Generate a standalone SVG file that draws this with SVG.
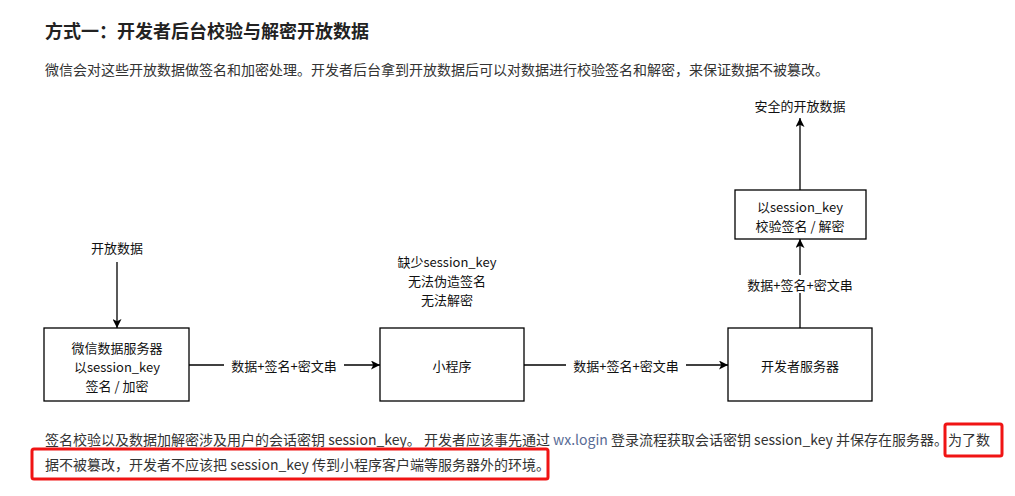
<svg xmlns="http://www.w3.org/2000/svg" width="1015" height="496" viewBox="0 0 1015 496">
<style>
.t{font-family:"Noto Sans CJK SC","Liberation Sans",sans-serif}
.title{font-size:18px;font-weight:bold;fill:#222}
.body{font-size:14px;fill:#333}
.d{font-size:13px;fill:#111;text-anchor:middle;dominant-baseline:central}
.box{fill:#fff;stroke:#000;stroke-width:1.3}
.ln{stroke:#000;stroke-width:1.3;fill:none;marker-end:url(#ah)}
.lbl{fill:#fff}
.red{fill:none;stroke:#f01414;stroke-width:3}
.link{fill:#576b95}
</style>
<defs>
<marker id="ah" viewBox="0 0 10 10" refX="10" refY="5" markerWidth="9" markerHeight="9" markerUnits="userSpaceOnUse" orient="auto">
<path d="M0,0 L10,5 L0,10 L2.5,5 Z" fill="#000"/>
</marker>
</defs>
<rect width="1015" height="496" fill="#fff"/>
<g id="header">
<text class="t title" x="45" y="38">方式一：开发者后台校验与解密开放数据</text>
<text class="t body" x="45" y="75">微信会对这些开放数据做签名和加密处理。开发者后台拿到开放数据后可以对数据进行校验签名和解密，来保证数据不被篡改。</text>
</g>
<g id="connectors">
<line class="ln" x1="117" y1="262" x2="117" y2="328"/>
<line class="ln" x1="189" y1="365" x2="380" y2="365"/>
<rect class="lbl" x="224" y="356" width="120" height="18"/>
<text class="t d" x="284" y="365">数据+签名+密文串</text>
<line class="ln" x1="524" y1="365" x2="728" y2="365"/>
<rect class="lbl" x="566" y="356" width="120" height="18"/>
<text class="t d" x="626" y="365">数据+签名+密文串</text>
<line class="ln" x1="800" y1="328" x2="800" y2="239"/>
<rect class="lbl" x="740" y="275" width="120" height="18"/>
<text class="t d" x="800" y="284">数据+签名+密文串</text>
<line class="ln" x1="800" y1="190" x2="800" y2="118"/>
</g>
<g id="n-open-data"><text class="t d" x="117" y="247">开放数据</text></g>
<g id="n-wx-server">
<rect class="box" x="44" y="328" width="145" height="73"/>
<text class="t d" x="117" y="347">微信数据服务器<tspan x="117" dy="19">以session_key</tspan><tspan x="117" dy="19">签名 / 加密</tspan></text>
</g>
<g id="n-miniprogram">
<rect class="box" x="380" y="328" width="144" height="73"/>
<text class="t d" x="452" y="365">小程序</text>
</g>
<g id="n-miniprogram-note">
<text class="t d" x="447" y="261">缺少session_key<tspan x="447" dy="19">无法伪造签名</tspan><tspan x="447" dy="19">无法解密</tspan></text>
</g>
<g id="n-dev-server">
<rect class="box" x="728" y="328" width="144" height="73"/>
<text class="t d" x="800" y="365">开发者服务器</text>
</g>
<g id="n-verify">
<rect class="box" x="735" y="190" width="131" height="49"/>
<text class="t d" x="800" y="206">以session_key<tspan x="800" dy="19">校验签名 / 解密</tspan></text>
</g>
<g id="n-safe"><text class="t d" x="800" y="105">安全的开放数据</text></g>
<g id="footer">
<text class="t body" x="45" y="445">签名校验以及数据加解密涉及用户的会话密钥 session_key。 开发者应该事先通过 <tspan class="link">wx.login</tspan> 登录流程获取会话密钥 session_key 并保存在服务器。为了数</text>
<text class="t body" x="45" y="470">据不被篡改，开发者不应该把 session_key 传到小程序客户端等服务器外的环境。</text>
<rect class="red" x="945" y="424" width="57" height="32" rx="2"/>
<rect class="red" x="32" y="449" width="516" height="30" rx="2"/>
</g>
</svg>
